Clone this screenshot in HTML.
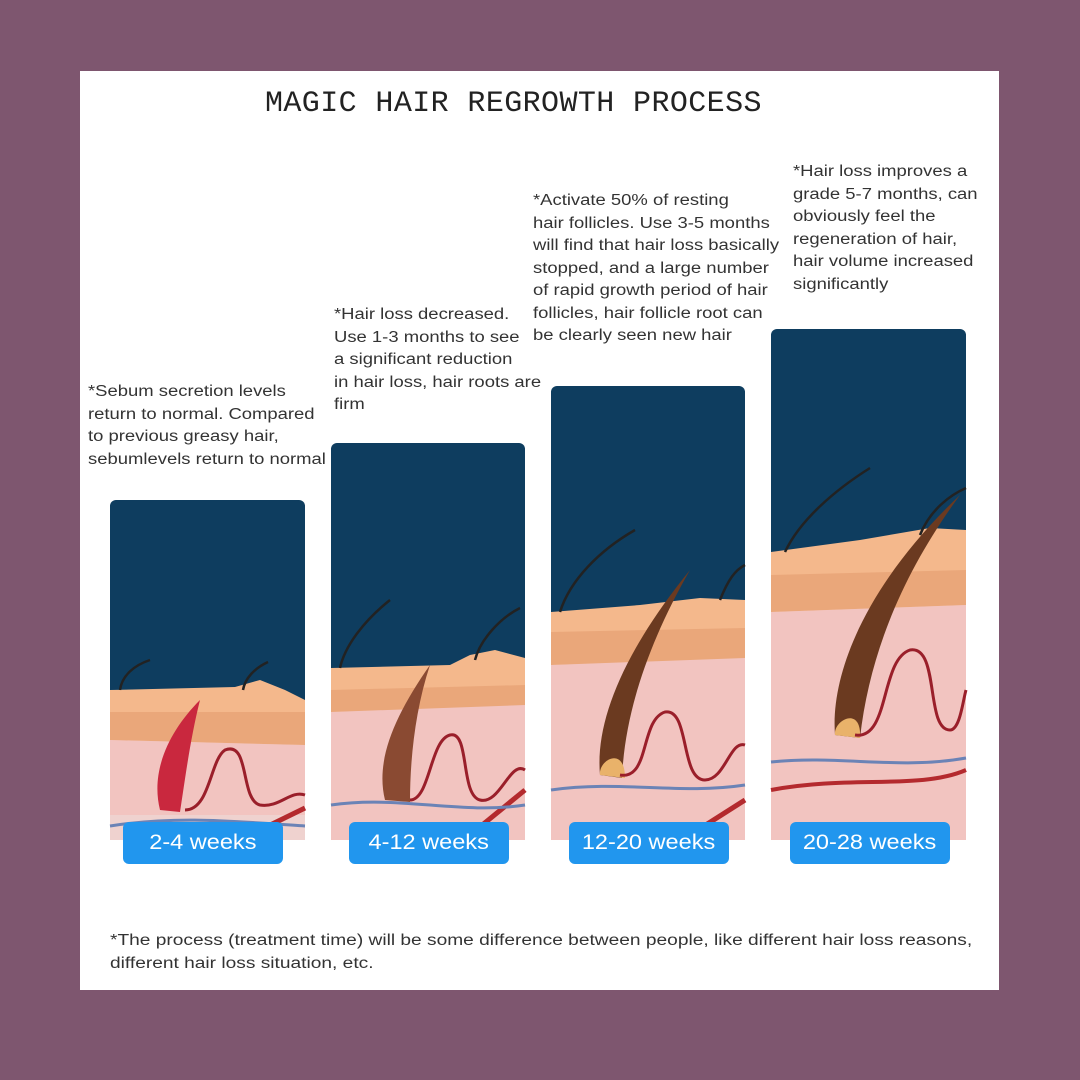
<!DOCTYPE html>
<html><head><meta charset="utf-8"><style>
body{margin:0;width:1080px;height:1080px;background:#7e566f;position:relative;overflow:hidden;font-family:"Liberation Sans",sans-serif}
#card{position:absolute;left:80px;top:71px;width:919px;height:919px;background:#fff}
.t{position:absolute;font-size:15.5px;line-height:22.5px;color:#333;white-space:nowrap;transform:scaleX(1.19);transform-origin:0 0}
h1{position:absolute;left:265px;top:87px;margin:0;font:30px "Liberation Mono",monospace;color:#222;letter-spacing:0.4px;white-space:nowrap}
.btn{position:absolute;width:160px;height:42px;background:#2196ee;border-radius:6px;color:#fff;font-size:21px;text-align:center;line-height:42px;top:822px}
.btn span{display:inline-block;transform:scaleX(1.12)}
svg{position:absolute}
</style></head><body>
<div id="card"></div>
<h1>MAGIC HAIR REGROWTH PROCESS</h1>
<div class="t" style="left:88px;top:381px">*Sebum secretion levels<br>return to normal. Compared<br>to previous greasy hair,<br>sebumlevels return to normal</div>
<div class="t" style="left:334px;top:304px">*Hair loss decreased.<br>Use 1-3 months to see<br>a significant reduction<br>in hair loss, hair roots are<br>firm</div>
<div class="t" style="left:533px;top:190px">*Activate 50% of resting<br>hair follicles. Use 3-5 months<br>will find that hair loss basically<br>stopped, and a large number<br>of rapid growth period of hair<br>follicles, hair follicle root can<br>be clearly seen new hair</div>
<div class="t" style="left:793px;top:161px">*Hair loss improves a<br>grade 5-7 months, can<br>obviously feel the<br>regeneration of hair,<br>hair volume increased<br>significantly</div>

<svg width="1080" height="1080" style="left:0;top:0">
<g>
<rect x="110" y="500" width="195" height="340" rx="6" fill="#0e3d5f"/>
<path d="M110 690 L235 687 L260 680 L285 690 L305 700 L305 840 L110 840Z" fill="#f4b88c"/>
<path d="M110 712 L305 712 L305 745 L110 740Z" fill="#eaa77a"/>
<path d="M110 740 L305 745 L305 840 L110 840Z" fill="#f2c4c0"/>
<path d="M110 815 L305 815 L305 840 L110 840Z" fill="#efd2cf"/>
<path d="M160 810 C150 770 170 730 200 700 C190 740 185 780 180 812Z" fill="#c9283e"/>
<path d="M185 810 C210 810 210 760 225 750 C250 740 240 800 260 805 C280 808 290 790 305 795" stroke="#9a1f2a" stroke-width="3" fill="none"/>
<path d="M260 830 L305 808" stroke="#b42a2e" stroke-width="5"/>
<path d="M120 690 C122 675 135 665 150 660 M243 690 C245 678 255 668 268 662" stroke="#222" stroke-width="2.5" fill="none"/>
<path d="M110 826 C180 815 240 822 305 826" stroke="#6b83b6" stroke-width="3" fill="none"/>
</g>
<g>
<rect x="331" y="443" width="194" height="397" rx="6" fill="#0e3d5f"/>
<path d="M331 668 L450 665 L470 655 L495 650 L525 658 L525 840 L331 840Z" fill="#f4b88c"/>
<path d="M331 690 L525 685 L525 708 L331 712Z" fill="#eaa77a"/>
<path d="M331 712 L525 705 L525 840 L331 840Z" fill="#f2c4c0"/>
<path d="M385 800 C375 760 395 715 430 665 C415 710 410 760 410 802Z" fill="#8a4a32"/>
<path d="M410 800 C430 800 430 740 450 735 C470 730 460 795 480 800 C500 805 510 760 525 770" stroke="#9a1f2a" stroke-width="3" fill="none"/>
<path d="M470 835 L525 790" stroke="#b42a2e" stroke-width="5"/>
<path d="M340 668 C345 645 365 620 390 600 M475 660 C480 640 500 618 520 608" stroke="#222" stroke-width="2.5" fill="none"/>
<path d="M331 805 C400 795 460 815 525 805" stroke="#6b83b6" stroke-width="3" fill="none"/>
</g>
<g>
<rect x="551" y="386" width="194" height="454" rx="6" fill="#0e3d5f"/>
<path d="M551 612 L640 605 L700 598 L745 600 L745 840 L551 840Z" fill="#f4b88c"/>
<path d="M551 632 L745 628 L745 660 L551 665Z" fill="#eaa77a"/>
<path d="M551 665 L745 658 L745 840 L551 840Z" fill="#f2c4c0"/>
<path d="M600 775 C595 720 625 650 690 570 C650 640 625 710 622 778Z" fill="#6b3a20"/>
<path d="M600 775 C598 760 625 745 625 778 Z" fill="#e9b26a"/>
<path d="M620 775 C650 780 640 720 665 712 C690 708 680 780 705 780 C725 780 730 740 745 745" stroke="#9a1f2a" stroke-width="3" fill="none"/>
<path d="M551 790 C620 780 680 795 745 785" stroke="#6b83b6" stroke-width="3" fill="none"/>
<path d="M690 835 L745 800" stroke="#b42a2e" stroke-width="5"/>
<path d="M560 612 C570 580 600 550 635 530 M720 600 C728 580 735 570 745 565" stroke="#222" stroke-width="2.5" fill="none"/>
</g>
<g>
<rect x="771" y="329" width="195" height="511" rx="6" fill="#0e3d5f"/>
<path d="M771 552 L860 540 L930 528 L966 530 L966 840 L771 840Z" fill="#f4b88c"/>
<path d="M771 575 L966 570 L966 605 L771 612Z" fill="#eaa77a"/>
<path d="M771 612 L966 605 L966 840 L771 840Z" fill="#f2c4c0"/>
<path d="M835 735 C830 670 870 580 960 495 C905 570 870 650 860 738Z" fill="#6b3a20"/>
<path d="M835 735 C833 720 862 705 860 738 Z" fill="#e9b26a"/>
<path d="M855 735 C890 740 880 660 910 650 C940 645 925 730 950 730 C960 730 963 700 966 690" stroke="#9a1f2a" stroke-width="3" fill="none"/>
<path d="M771 762 C840 755 900 770 966 758" stroke="#6b83b6" stroke-width="3" fill="none"/>
<path d="M771 790 C850 775 920 790 966 770" stroke="#b42a2e" stroke-width="4" fill="none"/>
<path d="M785 552 C800 520 835 490 870 468 M920 535 C930 510 950 495 966 488" stroke="#222" stroke-width="2.5" fill="none"/>
</g>
</svg>
<div class="btn" style="left:123px"><span>2-4 weeks</span></div>
<div class="btn" style="left:349px"><span>4-12 weeks</span></div>
<div class="btn" style="left:569px"><span>12-20 weeks</span></div>
<div class="btn" style="left:790px"><span>20-28 weeks</span></div>
<div class="t" style="left:110px;top:930px;transform:scaleX(1.235)">*The process (treatment time) will be some difference between people, like different hair loss reasons,<br>different hair loss situation, etc.</div>
</body></html>
